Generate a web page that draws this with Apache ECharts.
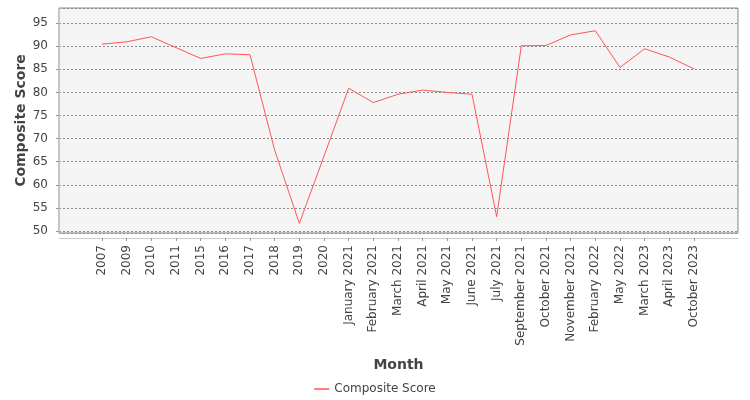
<!DOCTYPE html>
<html>
<head>
<meta charset="utf-8">
<script src="https://cdn.jsdelivr.net/npm/echarts@6/dist/echarts.min.js"></script>
<style>
  html, body { margin: 0; padding: 0; background: #fff; }
  #chart { width: 750px; height: 400px; }
</style>
</head>
<body>
<div id="chart"></div>
<script>
const categories = [
  '2007', '2009', '2010', '2011', '2015', '2016', '2017', '2018', '2019', '2020',
  'January 2021', 'February 2021', 'March 2021', 'April 2021', 'May 2021', 'June 2021',
  'July 2021', 'September 2021', 'October 2021', 'November 2021', 'February 2022',
  'May 2022', 'March 2023', 'April 2023', 'October 2023'
];

const compositeScore = [
  90.45, 90.95, 92.05, 89.7, 87.35, 88.35, 88.15, 67.5, 51.65, 66.2,
  80.9, 77.8, 79.6, 80.5, 80.0, 79.6,
  53.1, 90.1, 90.15, 92.45, 93.35,
  85.4, 89.45, 87.65, 85.1
];

// y range (auto range with margins)
const yMin = 49.57;
const yMax = 98.27;

const font = 'DejaVu Sans';
const chart = echarts.init(document.getElementById('chart'));

// grid 0 = plot frame + y axis + x axis line, grid 1 = category positions inset like the category margins
chart.setOption({
  animation: false,
  textStyle: { fontFamily: font },
  grid: [
    { left: 59, top: 8, width: 679, height: 225, show: true,
      backgroundColor: '#f4f4f4', borderColor: '#888', borderWidth: 1 },
    { left: 102, top: 8, width: 592, height: 225 }
  ],
  xAxis: [
    {
      gridIndex: 0, type: 'value', min: 0, max: 1, offset: 5,
      name: 'Month', nameLocation: 'middle', nameGap: 120, nameMoveOverlap: false,
      nameTextStyle: { fontFamily: font, fontSize: 14, fontWeight: 'bold', color: '#444' },
      axisLine: { show: true, lineStyle: { color: '#c8c8c8', width: 1 } },
      axisTick: { show: false }, axisLabel: { show: false }, splitLine: { show: false }
    },
    {
      gridIndex: 1, type: 'category', data: categories, boundaryGap: false, offset: 5,
      axisLine: { show: false },
      axisTick: { show: true, interval: 0, length: 3, lineStyle: { color: '#999' } },
      axisLabel: { interval: 0, rotate: 90, margin: 7, fontFamily: font, fontSize: 12, color: '#444' },
      splitLine: { show: false }
    }
  ],
  yAxis: [
    {
      gridIndex: 0, type: 'value', min: yMin, max: yMax, splitNumber: 10, offset: 4,
      name: 'Composite Score', nameLocation: 'middle', nameGap: 27, nameMoveOverlap: false,
      nameTextStyle: { fontFamily: font, fontSize: 14, fontWeight: 'bold', color: '#444' },
      axisLine: { show: true, lineStyle: { color: '#c8c8c8', width: 1 } },
      axisTick: { show: true, length: 3, lineStyle: { color: '#999' } },
      axisLabel: { margin: 7, fontFamily: font, fontSize: 12, color: '#444',
        showMinLabel: false, showMaxLabel: false },
      splitLine: { show: true, lineStyle: { color: '#8a8a8a', width: 1, type: [2, 2] } }
    },
    {
      gridIndex: 1, type: 'value', min: yMin, max: yMax, show: false
    }
  ],
  legend: {
    left: 'center', top: 378,
    icon: 'rect', itemWidth: 15, itemHeight: 1.5, itemGap: 10,
    textStyle: { fontFamily: font, fontSize: 12, color: '#444' },
    data: ['Composite Score']
  },
  series: [
    {
      name: 'Composite Score', type: 'line',
      xAxisIndex: 1, yAxisIndex: 1,
      data: compositeScore,
      showSymbol: false, symbol: 'none',
      color: '#ff5555',
      lineStyle: { color: '#ff5555', width: 1 },
      emphasis: { disabled: true }
    }
  ]
});
</script>
</body>
</html>
